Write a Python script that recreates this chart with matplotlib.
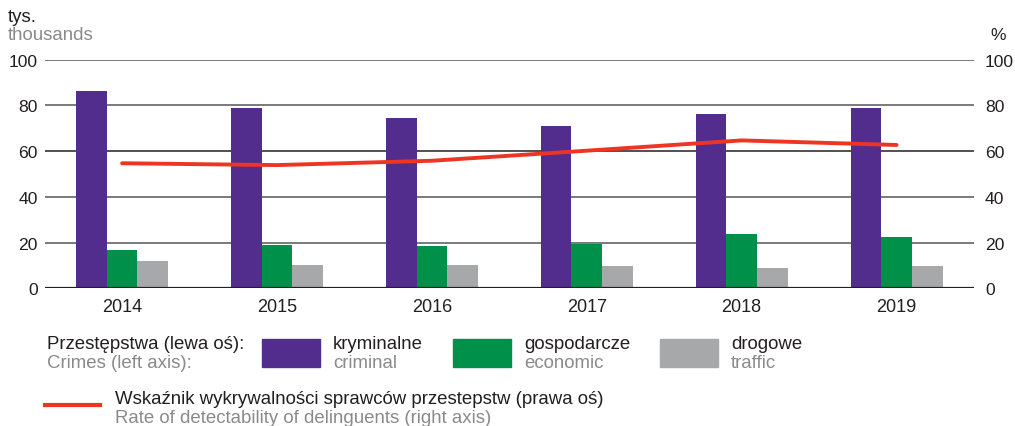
import matplotlib
matplotlib.use("Agg")
import matplotlib.pyplot as plt
import numpy as np
from matplotlib.patches import Rectangle
from matplotlib.lines import Line2D

plt.rcParams['font.family'] = ['Liberation Sans', 'DejaVu Sans']

years = ["2014", "2015", "2016", "2017", "2018", "2019"]
criminal = [86.3, 78.8, 74.5, 71.0, 76.2, 78.8]
economic = [16.7, 18.9, 18.5, 19.4, 23.7, 22.4]
traffic = [11.9, 10.2, 10.2, 9.7, 8.9, 9.7]
detect_rate = [54.7, 53.9, 55.8, 60.2, 64.7, 62.7]
yticks = [0, 20, 40, 60, 80, 100]

PURPLE = "#522D8E"
GREEN = "#00904A"
GREY = "#A7A8AA"
RED = "#EE3524"
TXT = "#231F20"
SUB = "#8A8A8A"
FS = 13.4
TFS = 12.6

fig = plt.figure(figsize=(10.15, 4.27), dpi=100)
ax = fig.add_axes([0.044, 0.3225, 0.9156, 0.5353])
x = np.arange(len(years))
w = 0.198
ax.bar(x - w, criminal, w, color=PURPLE, zorder=3)
ax.bar(x, economic, w, color=GREEN, zorder=3)
ax.bar(x + w, traffic, w, color=GREY, zorder=3)
ax.set_xlim(-0.5, 5.5)
ax.set_ylim(0, 100)
ax.set_yticks(yticks)
ax.set_xticks(x)
ax.set_xticklabels(years)
for s in ax.spines.values():
    s.set_visible(False)
ax.tick_params(axis='both', length=0, labelsize=TFS, colors=TXT)
ax.tick_params(axis='y', pad=5)
ax.tick_params(axis='x', pad=7, labelsize=13)
for t in yticks:
    if t == 0:
        ax.axhline(t, color="#231F20", lw=1.6, zorder=4)
    elif t == 60:
        ax.axhline(t, color="#231F20", lw=1.1, zorder=1)
    else:
        ax.axhline(t, color="#707070", lw=1.3, zorder=1)

ax2 = ax.twinx()
ax2.set_ylim(0, 100)
ax2.set_yticks(yticks)
for s in ax2.spines.values():
    s.set_visible(False)
ax2.tick_params(axis='y', length=0, labelsize=TFS, colors=TXT, pad=8)
ax2.plot(x, detect_rate, color=RED, lw=2.8, solid_capstyle='round', zorder=5)

# unit labels
fig.text(8/1015, 1 - 18/427, "tys.", fontsize=FS, color=TXT, va='center', ha='left')
fig.text(8/1015, 1 - 35/427, "thousands", fontsize=FS, color=SUB, va='center', ha='left')
fig.text(998.5/1015, 1 - 36/427, "%", fontsize=TFS, color=TXT, va='center', ha='center')

# legend
def ftxt(px, py, s, c):
    fig.text(px/1015, 1 - py/427, s, fontsize=FS, color=c, va='center', ha='left')

ftxt(47, 345, "Przestępstwa (lewa oś):", TXT)
ftxt(47, 364, "Crimes (left axis):", SUB)
for (x0, col, l1, l2) in [(262, PURPLE, "kryminalne", "criminal"),
                          (453, GREEN, "gospodarcze", "economic"),
                          (660, GREY, "drogowe", "traffic")]:
    fig.add_artist(Rectangle((x0/1015, 1 - 368/427), 58/1015, 28/427,
                             transform=fig.transFigure, color=col))
    ftxt(x0 + 71, 345, l1, TXT)
    ftxt(x0 + 71, 364, l2, SUB)

fig.add_artist(Line2D([45/1015, 100/1015], [1 - 406/427, 1 - 406/427],
                      transform=fig.transFigure, color=RED, lw=3))
ftxt(115, 400, "Wskaźnik wykrywalności sprawców przestepstw (prawa oś)", TXT)
ftxt(115, 419, "Rate of detectability of delinguents (right axis)", SUB)

fig.savefig("out.png", dpi=100)
